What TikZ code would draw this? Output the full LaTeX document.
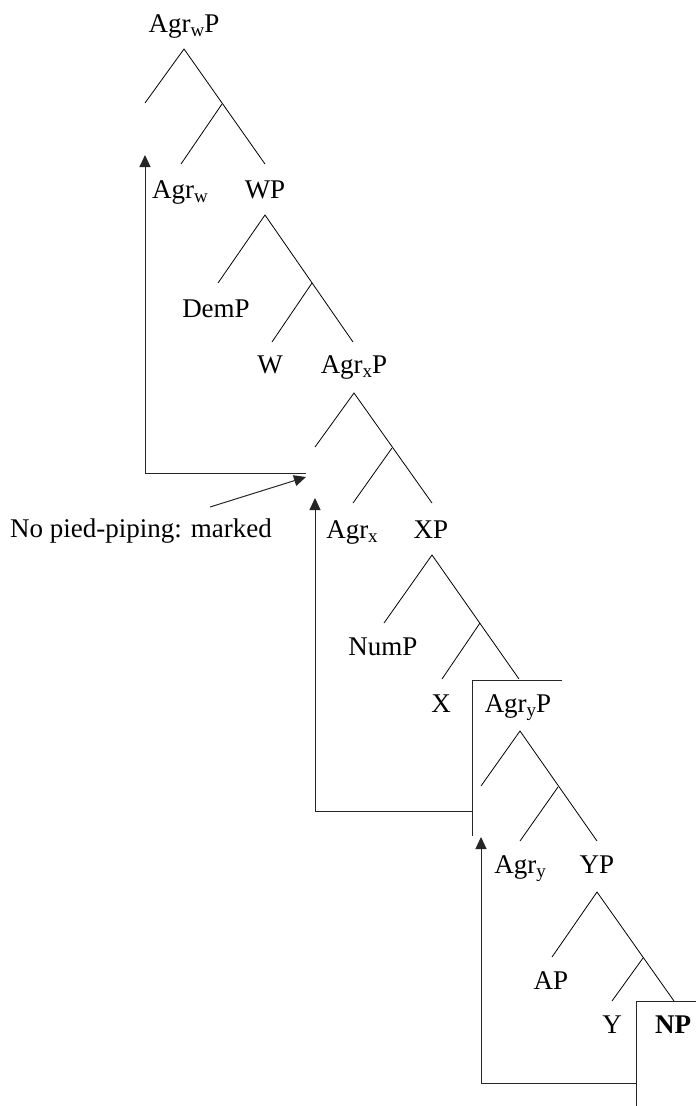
\documentclass[tikz,border=0pt]{standalone}
\usepackage{fontspec}
\setmainfont{Liberation Serif}
\usetikzlibrary{arrows.meta}
\newcommand\subs[1]{\raisebox{-0.35ex}{\fontsize{19}{19}\selectfont #1}}
\begin{document}
\begin{tikzpicture}[x=1pt,y=-1pt,
  lbl/.style={anchor=base,inner sep=0pt,font=\fontsize{27}{32}\selectfont},
  br/.style={line width=0.8pt,black},
  mv/.style={line width=1pt,black!85},
  tip/.style={-{Triangle[length=12pt,width=11pt]}}]
\useasboundingbox (0,0) rectangle (696,1106);
% labels
\node[lbl] (AgrwP) at (184,32) {Agr\subs{w}P};
\node[lbl] (Agrw) at (180,198) {Agr\subs{w}};
\node[lbl] (WP) at (265,198) {WP};
\node[lbl] (DemP) at (216,317) {DemP};
\node[lbl] (W) at (270,373) {W};
\node[lbl] (AgrxP) at (354,373) {Agr\subs{x}P};
\node[lbl] (Agrx) at (352,538) {Agr\subs{x}};
\node[lbl] (XP) at (431,538) {XP};
\node[lbl] (NumP) at (383,655) {NumP};
\node[lbl] (X) at (441,712) {X};
\node[lbl] (AgryP) at (518,712) {Agr\subs{y}P};
\node[lbl] (Agry) at (520,873) {Agr\subs{y}};
\node[lbl] (YP) at (597,873) {YP};
\node[lbl] (AP) at (551,989) {AP};
\node[lbl] (Y) at (612,1033) {Y};
\node[lbl] (NP) at (673,1033) {\bfseries NP};
\node[lbl] (note) at (141,537) {No pied-piping: marked};
% level A
\coordinate (a0) at (184,49); \coordinate (a1) at (145,103); \coordinate (am) at (222,104);
\coordinate (a2) at (181,164); \coordinate (a3) at (265,164);
\draw[br] (a1) -- (a0) -- (a3); \draw[br] (am) -- (a2);
% level B
\coordinate (b0) at (265,215); \coordinate (b1) at (218,283); \coordinate (bm) at (312,283);
\coordinate (b2) at (272,342); \coordinate (b3) at (353,342);
\draw[br] (b1) -- (b0) -- (b3); \draw[br] (bm) -- (b2);
% level C
\coordinate (c0) at (354,393); \coordinate (c1) at (315,447); \coordinate (cm) at (392,448);
\coordinate (c2) at (353,503); \coordinate (c3) at (432,503);
\draw[br] (c1) -- (c0) -- (c3); \draw[br] (cm) -- (c2);
% level D
\coordinate (d0) at (432,555); \coordinate (d1) at (384,623); \coordinate (dm) at (480,623);
\coordinate (d2) at (442,679); \coordinate (d3) at (519,679);
\draw[br] (d1) -- (d0) -- (d3); \draw[br] (dm) -- (d2);
% level E
\coordinate (e0) at (520,731); \coordinate (e1) at (481,786); \coordinate (em) at (558,787);
\coordinate (e2) at (520,841); \coordinate (e3) at (597,841);
\draw[br] (e1) -- (e0) -- (e3); \draw[br] (em) -- (e2);
% level F
\coordinate (f0) at (597,892); \coordinate (f1) at (552,957); \coordinate (fm) at (643,958);
\coordinate (f2) at (612,1001); \coordinate (f3) at (674,1001);
\draw[br] (f1) -- (f0) -- (f3); \draw[br] (fm) -- (f2);
% movement 1
\coordinate (m1a) at (306,473); \coordinate (m1b) at (145,473); \coordinate (m1t) at (145,155);
\draw[mv,tip] (m1a) -- (m1b) -- (m1t);
\coordinate (n0) at (210,507); \coordinate (n1) at (306,477);
\draw[mv,tip] (n0) -- (n1);
% movement 2
\coordinate (p1) at (562,680); \coordinate (p2) at (472,680); \coordinate (p3) at (472,836);
\coordinate (p4) at (472,811); \coordinate (p5) at (315,811); \coordinate (p6) at (315,498);
\draw[mv] (p1) -- (p2) -- (p3);
\draw[mv,tip] (p4) -- (p5) -- (p6);
% movement 3
\coordinate (q1) at (696,1001); \coordinate (q2) at (636,1001); \coordinate (q3) at (636,1106);
\coordinate (q4) at (636,1083); \coordinate (q5) at (481,1083); \coordinate (q6) at (481,837);
\draw[mv] (q1) -- (q2) -- (q3);
\draw[mv,tip] (q4) -- (q5) -- (q6);
\end{tikzpicture}
\end{document}
